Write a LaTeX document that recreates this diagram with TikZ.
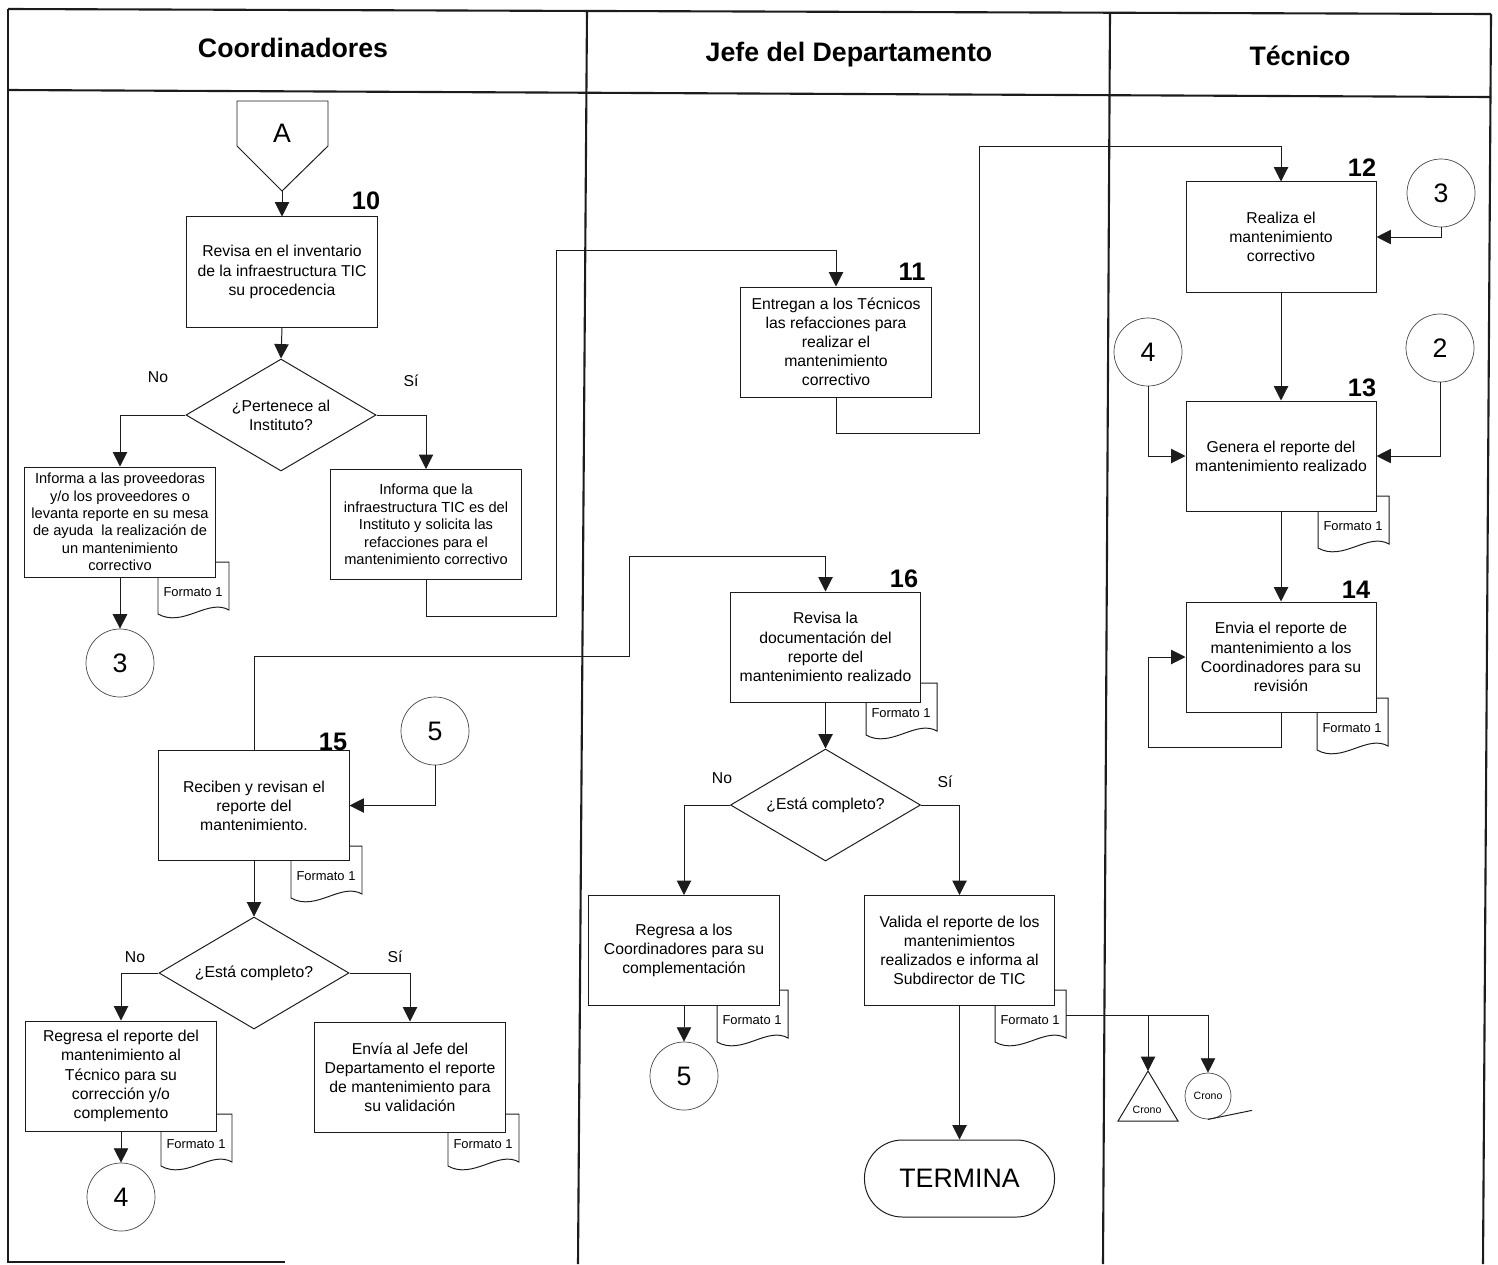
\documentclass[tikz,border=0pt]{standalone}
\usepackage{fontspec}
\setmainfont{Liberation Sans}
\usepackage{tikz}
\usetikzlibrary{arrows.meta,shapes.geometric,calc}
\definecolor{Ink}{HTML}{1C1C1C}
\tikzset{
  lane/.style={draw=Ink,line width=1.5pt},
  stepbox/.style={draw=Ink,fill=white,line width=0.7pt,minimum width=47.5mm,minimum height=27.5mm,inner sep=1pt,align=center,font=\fontsize{11.2}{13.6}\selectfont},
  stepdense/.style={stepbox,font=\fontsize{10.4}{12.4}\selectfont},
  decision/.style={diamond,aspect=1.7,draw=Ink,fill=white,line width=0.7pt,minimum width=47.5mm,minimum height=28mm,inner sep=1pt,align=center,font=\fontsize{11.2}{13.6}\selectfont},
  linkcircle/.style={circle,draw=Ink!80,line width=0.5pt,fill=white,minimum size=17mm,inner sep=0pt,font=\fontsize{19}{21}\selectfont},
  bigtext/.style={font=\fontsize{19}{21}\selectfont},
  stepnum/.style={font=\bfseries\fontsize{18}{20}\selectfont},
  lanetitle/.style={font=\bfseries\fontsize{19}{22}\selectfont},
  answer/.style={font=\fontsize{11.2}{13}\selectfont},
  arrow/.style={-{Triangle[length=3.6mm,width=3.6mm]},line width=0.7pt,draw=Ink},
  wire/.style={line width=0.7pt,draw=Ink},
  docshape/.style={draw=Ink,fill=white,line width=0.7pt},
  doctext/.style={font=\fontsize{9.2}{11}\selectfont},
  tinytext/.style={font=\fontsize{7.5}{9}\selectfont}
}
\newcommand{\formato}[3]{%
  \begin{scope}[shift={(#2,#3)}]
    \draw[docshape] (0,0) -- (71,0) -- (71,48) .. controls (50,36) and (25,66) .. (0,52) -- cycle;
    \node[doctext] (#1t) at (35,30) {Formato 1};
    \coordinate (#1) at (71,25);
  \end{scope}}

\begin{document}
\begin{tikzpicture}[x=0.025cm,y=-0.025cm]
  \useasboundingbox (0,0) rectangle (1498,1264);
  % swimlanes
  \draw[lane] (8,9) -- (1491,14);
  \draw[lane] (8,90) -- (1491,97);
  \draw[lane] (8,9) -- (8,1262) -- (285,1262);
  \draw[lane] (1491,14) -- (1483,1264);
  \draw[lane] (587,10) -- (578,1264);
  \draw[lane] (1110,12) -- (1103,1264);
  \node[lanetitle] (hcoord) at (293,48) {Coordinadores};
  \node[lanetitle] (hjefe) at (849,55) {Jefe del Departamento};
  \node[lanetitle] (htec) at (1300,56) {Técnico};

  % documents first, boxes on top
  \formato{f10}{158}{562}
  \formato{f13}{1318}{496}
  \formato{f14}{1317}{698}
  \formato{f15}{291}{846}
  \formato{f16}{866}{683}
  \formato{f15n}{161}{1114}
  \formato{f15s}{448}{1114}
  \formato{f16n}{717}{990}
  \formato{f16s}{995}{990}

  % Coordinadores
  \draw[wire,fill=white] (237,101) -- (328,101) -- (328,146) -- (282,191) -- (237,146) -- cycle;
  \node[bigtext] (offA) at (282,133) {A};
  \coordinate (Atip) at (282,191);
  \node[stepbox] (b10) at (282,272) {Revisa en el inventario\\de la infraestructura TIC\\su procedencia};
  \node[stepnum] (n10) at (366,201) {10};
  \node[decision] (d10) at (281,415) {¿Pertenece al\\Instituto?};
  \node[answer] (no10) at (158,377) {No};
  \node[answer] (si10) at (411,381) {Sí};
  \node[stepdense] (b10no) at (120,522) {Informa a las proveedoras\\y/o los proveedores o\\levanta reporte en su mesa\\de ayuda\ \ la realización de\\un mantenimiento\\correctivo};
  \node[stepdense] (b10si) at (426,524.5) {Informa que la\\infraestructura TIC es del\\Instituto y solicita las\\refacciones para el\\mantenimiento correctivo};
  \node[linkcircle] (c3a) at (120,663) {3};
  \node[stepbox] (b15) at (254,805.5) {Reciben y revisan el\\reporte del\\mantenimiento.};
  \node[stepnum] (n15) at (333,742) {15};
  \node[linkcircle] (c5a) at (435,731) {5};
  \node[decision] (d15) at (254,973) {¿Está completo?};
  \node[answer] (no15) at (135,957) {No};
  \node[answer] (si15) at (395,957) {Sí};
  \node[stepbox] (b15no) at (121,1076) {Regresa el reporte del\\mantenimiento al\\Técnico para su\\corrección y/o\\complemento};
  \node[stepbox] (b15si) at (410,1077) {Envía al Jefe del\\Departamento el reporte\\de mantenimiento para\\su validación};
  \node[linkcircle] (c4a) at (121,1197) {4};

  % Jefe del Departamento
  \node[stepbox] (b11) at (836,342) {Entregan a los Técnicos\\las refacciones para\\realizar el\\mantenimiento\\correctivo};
  \node[stepnum] (n11) at (912,272) {11};
  \node[stepbox] (b16) at (825.5,647) {Revisa la\\documentación del\\reporte del\\mantenimiento realizado};
  \node[stepnum] (n16) at (904,579) {16};
  \node[decision] (d16) at (825.5,805) {¿Está completo?};
  \node[answer] (no16) at (722,778) {No};
  \node[answer] (si16) at (945,782) {Sí};
  \node[stepbox] (b16no) at (684,950.5) {Regresa a los\\Coordinadores para su\\complementación};
  \node[stepbox] (b16si) at (959.5,950.5) {Valida el reporte de los\\mantenimientos\\realizados e informa al\\Subdirector de TIC};
  \node[linkcircle] (c5b) at (684,1076) {5};
  \node[stepbox,rounded corners=9.5mm,minimum height=19.25mm,bigtext] (fin) at (959.5,1178.5) {TERMINA};

  % Tecnico
  \node[stepbox] (b12) at (1281,237) {Realiza el\\mantenimiento\\correctivo};
  \node[stepnum] (n12) at (1362,168) {12};
  \node[linkcircle] (c3b) at (1441,193) {3};
  \node[linkcircle] (c4b) at (1148,352) {4};
  \node[linkcircle] (c2) at (1440,348) {2};
  \node[stepbox] (b13) at (1281,456) {Genera el reporte del\\mantenimiento realizado};
  \node[stepnum] (n13) at (1362,388) {13};
  \node[stepbox] (b14) at (1281,657) {Envia el reporte de\\mantenimiento a los\\Coordinadores para su\\revisión};
  \node[stepnum] (n14) at (1356,590) {14};
  \coordinate (tri) at (1148,1071);
  \draw[wire] (tri) -- (1178,1121) -- (1118,1121) -- cycle;
  \node[tinytext] (crono1) at (1147,1110) {Crono};
  \node[linkcircle,minimum size=11.5mm,tinytext] (crono2) at (1208,1096) {Crono};
  \draw[wire] (crono2.south) -- ++(44,-9);

  % connectors
  \draw[arrow] (Atip) -- (b10.north);
  \draw[arrow] (b10.south) -- (d10.north);
  \draw[arrow] (d10.west) -| (b10no.north);
  \draw[arrow] (d10.east) -| (b10si.north);
  \draw[arrow] (b10no.south) -- (c3a.north);
  \draw[arrow] (b10si.south) -- ++(0,36) -| (556,250) -| (b11.north);
  \draw[arrow] (b11.south) -- ++(0,36) -| (979,146) -| (b12.north);
  \draw[arrow] (c3b.south) |- (b12.east);
  \draw[arrow] (b12.south) -- (b13.north);
  \draw[arrow] (c4b.south) |- (b13.west);
  \draw[arrow] (c2.south) |- (b13.east);
  \draw[arrow] (b13.south) -- (b14.north);
  \draw[arrow] (b14.south) -- ++(0,35) -- ++(-133,0) |- (b14.west);
  \draw[arrow] (c5a.south) |- (b15.east);
  \draw[arrow] (b15.north) -- ++(0,-94) -| (629,556) -| (b16.north);
  \draw[arrow] (b15.south) -- (d15.north);
  \draw[arrow] (d15.west) -| (b15no.north);
  \draw[arrow] (d15.east) -| (b15si.north);
  \draw[arrow] (b15no.south) -- (c4a.north);
  \draw[arrow] (b16.south) -- (d16.north);
  \draw[arrow] (d16.west) -| (b16no.north);
  \draw[arrow] (d16.east) -| (b16si.north);
  \draw[arrow] (b16no.south) -- (c5b.north);
  \draw[arrow] (b16si.south) -- (fin.north);
  \draw[arrow] (f16s) -| (crono2.north);
  \draw[arrow] (f16s -| tri) -- (tri);
\end{tikzpicture}
\end{document}
